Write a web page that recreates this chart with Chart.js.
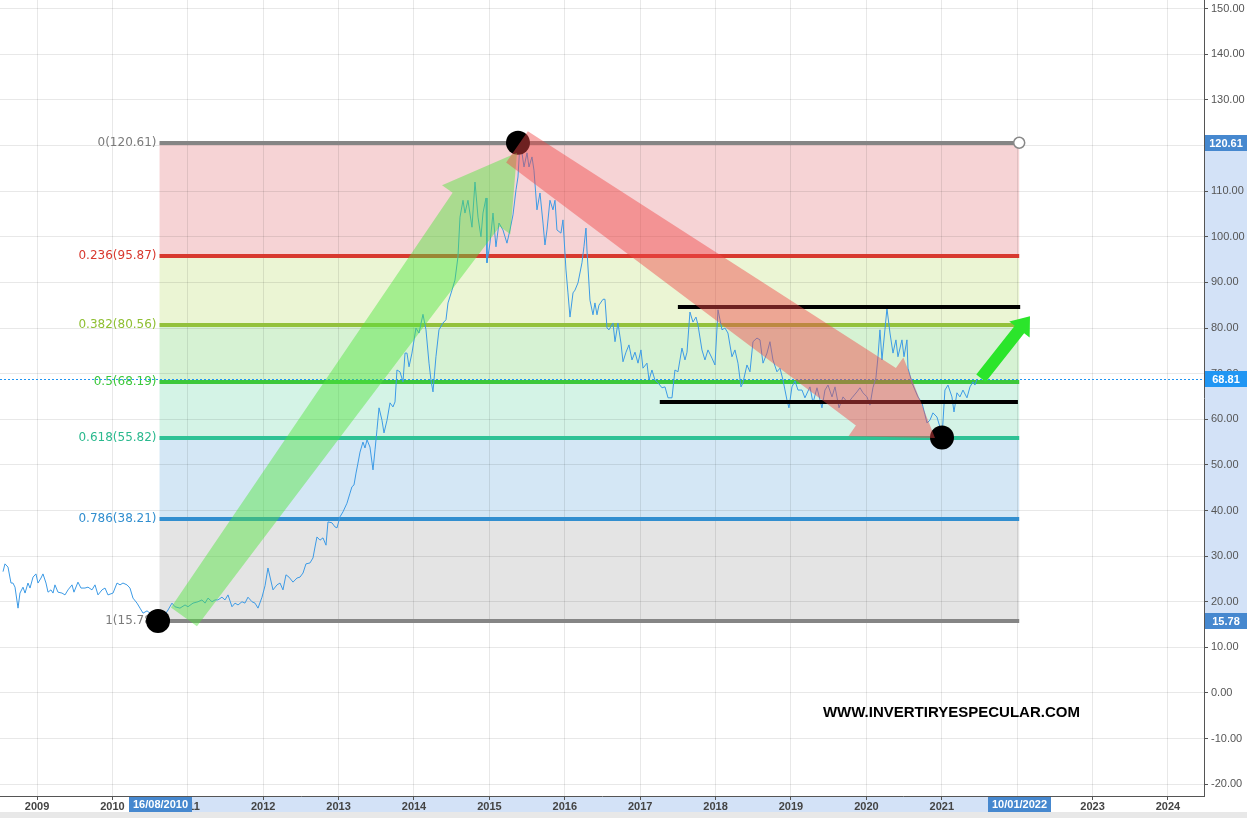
<!DOCTYPE html>
<html>
<head>
<meta charset="utf-8">
<script src="https://cdn.jsdelivr.net/npm/chart.js@4.4.0/dist/chart.umd.min.js"></script>
<style>
  html, body { margin: 0; padding: 0; background: #fff; overflow: hidden; }
</style>
</head>
<body>
<canvas id="chart" width="1247" height="818"></canvas>
<script>
// ---- data ----
const priceDates = [
  2008.549, 2008.575, 2008.615, 2008.655, 2008.681, 2008.708, 2008.748, 2008.774, 2008.814, 2008.841,
  2008.880, 2008.907, 2008.947, 2008.986, 2009.013, 2009.053, 2009.079, 2009.119, 2009.146, 2009.185,
  2009.212, 2009.238, 2009.278, 2009.331, 2009.371, 2009.411, 2009.464, 2009.490, 2009.543, 2009.583,
  2009.636, 2009.676, 2009.729, 2009.769, 2009.809, 2009.862, 2009.902, 2009.941, 2010.008, 2010.061,
  2010.101, 2010.140, 2010.193, 2010.233, 2010.273, 2010.326, 2010.366, 2010.406, 2010.459, 2010.498,
  2010.551, 2010.605, 2010.671, 2010.724, 2010.790, 2010.830, 2010.896, 2010.963, 2011.002, 2011.069,
  2011.135, 2011.188, 2011.228, 2011.268, 2011.321, 2011.361, 2011.400, 2011.453, 2011.493, 2011.533,
  2011.586, 2011.626, 2011.666, 2011.719, 2011.758, 2011.798, 2011.851, 2011.891, 2011.931, 2011.984,
  2012.024, 2012.063, 2012.130, 2012.183, 2012.223, 2012.262, 2012.302, 2012.342, 2012.395, 2012.448,
  2012.488, 2012.528, 2012.567, 2012.620, 2012.660, 2012.687, 2012.713, 2012.753, 2012.793, 2012.833,
  2012.859, 2012.912, 2012.952, 2012.979, 2013.018, 2013.058, 2013.111, 2013.151, 2013.177, 2013.204,
  2013.231, 2013.257, 2013.284, 2013.323, 2013.350, 2013.377, 2013.416, 2013.456, 2013.483, 2013.509,
  2013.536, 2013.575, 2013.602, 2013.642, 2013.682, 2013.721, 2013.748, 2013.774, 2013.814, 2013.854,
  2013.881, 2013.907, 2013.934, 2013.973, 2014.026, 2014.066, 2014.119, 2014.159, 2014.199, 2014.225,
  2014.252, 2014.291, 2014.331, 2014.384, 2014.424, 2014.451, 2014.504, 2014.543, 2014.583, 2014.610,
  2014.650, 2014.676, 2014.716, 2014.769, 2014.809, 2014.849, 2014.888, 2014.915, 2014.955, 2014.968,
  2015.008, 2015.048, 2015.087, 2015.127, 2015.180, 2015.207, 2015.233, 2015.273, 2015.313, 2015.353,
  2015.379, 2015.406, 2015.432, 2015.459, 2015.499, 2015.525, 2015.565, 2015.591, 2015.631, 2015.671,
  2015.711, 2015.737, 2015.764, 2015.803, 2015.843, 2015.870, 2015.896, 2015.949, 2015.976, 2016.016,
  2016.042, 2016.069, 2016.109, 2016.135, 2016.175, 2016.228, 2016.254, 2016.281, 2016.294, 2016.334,
  2016.374, 2016.400, 2016.427, 2016.453, 2016.507, 2016.533, 2016.560, 2016.586, 2016.639, 2016.666,
  2016.705, 2016.745, 2016.772, 2016.812, 2016.851, 2016.891, 2016.931, 2016.971, 2017.010, 2017.037,
  2017.090, 2017.117, 2017.156, 2017.196, 2017.236, 2017.289, 2017.329, 2017.369, 2017.422, 2017.461,
  2017.501, 2017.554, 2017.594, 2017.621, 2017.660, 2017.700, 2017.740, 2017.766, 2017.819, 2017.859,
  2017.899, 2017.952, 2017.992, 2018.032, 2018.085, 2018.124, 2018.164, 2018.217, 2018.257, 2018.297,
  2018.337, 2018.363, 2018.416, 2018.456, 2018.496, 2018.549, 2018.589, 2018.629, 2018.682, 2018.721,
  2018.761, 2018.814, 2018.854, 2018.894, 2018.947, 2018.973, 2019.013, 2019.053, 2019.093, 2019.146,
  2019.185, 2019.252, 2019.292, 2019.345, 2019.411, 2019.451, 2019.491, 2019.544, 2019.584, 2019.637,
  2019.690, 2019.756, 2019.809, 2019.875, 2019.915, 2019.955, 2020.008, 2020.048, 2020.087, 2020.127,
  2020.154, 2020.180, 2020.207, 2020.246, 2020.273, 2020.313, 2020.353, 2020.392, 2020.419, 2020.472,
  2020.499, 2020.538, 2020.552, 2020.605, 2020.645, 2020.684, 2020.737, 2020.777, 2020.804, 2020.843,
  2020.883, 2020.936, 2020.976, 2021.003, 2021.042, 2021.082, 2021.135, 2021.162, 2021.201, 2021.241,
  2021.281, 2021.334, 2021.374, 2021.414, 2021.440, 2021.467
];
const priceValues = [
  26.6, 28.3, 27.6, 24.1, 24.1, 23.2, 18.6, 21.9, 23.2, 21.9,
  24.1, 23.0, 25.4, 26.1, 24.1, 25.2, 26.1, 24.1, 22.1, 22.6,
  21.9, 23.7, 22.1, 21.9, 21.5, 22.6, 23.7, 22.1, 24.3, 23.0,
  23.0, 23.2, 22.6, 23.7, 21.5, 22.6, 23.0, 21.5, 21.9, 24.1,
  23.7, 24.1, 23.7, 23.0, 20.8, 19.7, 18.6, 17.5, 18.0, 17.5,
  16.8, 15.8, 17.0, 17.8, 19.7, 18.9, 18.6, 19.3, 18.9, 19.7,
  20.0, 20.4, 19.7, 20.8, 20.0, 20.4, 20.4, 21.0, 20.4, 21.5,
  18.9, 19.7, 19.3, 20.0, 19.7, 21.0, 20.0, 19.7, 18.6, 21.0,
  23.5, 27.4, 22.6, 23.7, 24.1, 22.6, 25.9, 25.4, 24.3, 25.2,
  25.4, 26.3, 28.3, 28.5, 29.6, 32.0, 34.2, 33.5, 34.0, 32.4,
  37.5, 37.3, 36.4, 36.2, 38.6, 39.7, 41.6, 43.8, 45.2, 45.6,
  48.2, 50.4, 52.8, 55.0, 53.7, 55.5, 53.9, 48.9, 53.3, 57.7,
  62.5, 59.8, 57.0, 59.8, 63.6, 62.7, 63.8, 70.8, 70.4, 68.2,
  74.5, 74.5, 71.5, 74.5, 80.0, 78.9, 83.0, 79.6, 72.3, 68.6,
  66.0, 73.7, 79.6, 81.1, 81.8, 85.5, 88.3, 90.5, 95.6, 104.3,
  108.0, 105.2, 108.0, 102.1, 112.0, 104.3, 100.0, 105.2, 108.5, 94.3,
  98.6, 105.2, 97.8, 103.0, 101.5, 100.0, 98.6, 101.5, 104.8, 110.3,
  113.1, 120.6, 118.4, 115.3, 118.4, 115.3, 117.5, 114.6, 105.9, 109.6,
  103.0, 98.2, 101.5, 108.0, 105.9, 108.0, 101.5, 100.8, 103.7, 92.7,
  87.7, 82.4, 87.7, 88.3, 89.9, 94.3, 97.8, 101.9, 97.1, 86.1,
  82.9, 85.5, 82.9, 85.0, 86.3, 86.3, 80.0, 79.6, 81.1, 77.0,
  81.1, 76.7, 72.6, 74.7, 76.3, 73.0, 74.7, 72.3, 75.2, 71.2,
  72.3, 68.6, 70.8, 68.6, 68.0, 66.9, 67.1, 64.7, 64.7, 70.8,
  70.4, 75.6, 73.0, 74.7, 83.5, 81.3, 82.4, 80.7, 75.2, 73.0,
  75.2, 73.4, 71.9, 84.0, 79.6, 80.0, 78.9, 73.7, 75.2, 72.3,
  67.1, 68.0, 71.9, 70.4, 77.0, 77.8, 77.4, 72.3, 74.5, 77.0,
  73.0, 70.4, 71.2, 68.6, 64.2, 62.5, 67.1, 68.4, 66.4, 66.4,
  64.7, 67.1, 63.6, 66.9, 62.5, 66.4, 67.5, 64.9, 67.1, 62.5,
  64.9, 63.6, 64.7, 66.0, 66.9, 65.8, 64.9, 63.1, 66.9, 69.1,
  73.7, 79.6, 73.0, 79.6, 84.3, 78.9, 74.5, 77.4, 73.7, 77.4,
  73.7, 77.4, 71.2, 68.0, 66.4, 64.9, 63.6, 61.0, 59.2, 59.8,
  61.4, 60.5, 58.3, 56.0, 66.4, 67.5, 64.9, 61.6, 65.8, 64.9,
  66.4, 64.7, 67.1, 68.2, 67.5, 68.81
];

const yearTicks = [2009, 2010, 2011, 2012, 2013, 2014, 2015, 2016, 2017, 2018, 2019, 2020, 2021, 2022, 2023, 2024];
const valueTicks = [-20, -10, 0, 10, 20, 30, 40, 50, 60, 70, 80, 90, 100, 110, 120, 130, 140, 150];

// Fibonacci retracement drawn between the 16/08/2010 low and 10/01/2022
const fibRatios = ['0', '0.236', '0.382', '0.5', '0.618', '0.786', '1'];
const fibLevels = [120.61, 95.87, 80.56, 68.19, 55.82, 38.21, 15.78];
const fibStart = 2010.625;   // 16/08/2010
const fibEnd = 2022.027;     // 10/01/2022
const fibStartLabel = '16/08/2010';
const fibEndLabel = '10/01/2022';

// swing points (black dots)
const swingDates = [2010.605, 2015.379, 2021.003];
const swingValues = [15.78, 120.61, 56.0];

// horizontal range lines
const rangeLevels = [84.5, 63.8];
const rangeStarts = [2017.50, 2017.26];
const rangeEnds = [2022.04, 2022.01];

// arrows: [date, value] tail -> tip
const arrowTails = [[2010.949, 16.7], [2015.366, 119.7], [2021.520, 69.0]];
const arrowTips = [[2015.366, 118.4], [2020.910, 55.9], [2022.170, 82.6]];

const lastPrice = 68.81;
const watermark = 'WWW.INVERTIRYESPECULAR.COM';
const watermarkAt = [2019.424, -4.4];

// ---- styles ----
const fibLineColors = ['#858585', '#d8392f', '#93c13c', '#3cc83a', '#2ec295', '#318ecf', '#858585'];
const fibFillColors = ['#f6d3d5', '#ebf5d4', '#d6f2d3', '#d4f3e6', '#d4e7f5', '#e4e4e4'];
const fibTextColors = ['#7a7a7a', '#d8392f', '#8fbf33', '#3cc83a', '#2ab98e', '#318ecf', '#7a7a7a'];
const arrowStyles = [
  { color: 'rgba(80,228,60,0.46)', w0: 16, w1: 29, wh: 42, hl: 70 },
  { color: 'rgba(240,72,72,0.46)', w0: 19, w1: 35, wh: 48, hl: 72 },
  { color: '#2be52b', w0: 6, w1: 6, wh: 13, hl: 17 }
];

Chart.defaults.font.family = "'Liberation Sans', Arial, sans-serif";
Chart.defaults.font.size = 11;

function fatArrow(ctx, x0, y0, x1, y1, s) {
  const dx = x1 - x0, dy = y1 - y0, len = Math.hypot(dx, dy);
  const ux = dx / len, uy = dy / len, nx = -uy, ny = ux;
  const bx = x1 - ux * s.hl, by = y1 - uy * s.hl;
  ctx.beginPath();
  ctx.moveTo(x0 + nx * s.w0, y0 + ny * s.w0);
  ctx.lineTo(bx + nx * s.w1, by + ny * s.w1);
  ctx.lineTo(bx + nx * s.wh, by + ny * s.wh);
  ctx.lineTo(x1, y1);
  ctx.lineTo(bx - nx * s.wh, by - ny * s.wh);
  ctx.lineTo(bx - nx * s.w1, by - ny * s.w1);
  ctx.lineTo(x0 - nx * s.w0, y0 - ny * s.w0);
  ctx.closePath();
  ctx.fillStyle = s.color;
  ctx.fill();
}

function tagBox(ctx, x, y, w, h, bg, text) {
  ctx.fillStyle = bg;
  ctx.fillRect(x, y, w, h);
  ctx.fillStyle = '#fff';
  ctx.font = "bold 11px 'Liberation Sans', Arial, sans-serif";
  ctx.textAlign = 'center';
  ctx.textBaseline = 'middle';
  ctx.fillText(text, x + w / 2, y + h / 2 + 0.5);
}

const drawingsPlugin = {
  id: 'drawings',
  beforeDraw(chart) {
    const { ctx, chartArea: ca, scales: { x, y } } = chart;
    ctx.save();
    ctx.fillStyle = '#fff';
    ctx.fillRect(0, 0, chart.width, chart.height);
    // fib bands
    const xa = x.getPixelForValue(fibStart), xb = x.getPixelForValue(fibEnd);
    for (let i = 0; i < fibFillColors.length; i++) {
      const ya = y.getPixelForValue(fibLevels[i]), yb = y.getPixelForValue(fibLevels[i + 1]);
      ctx.fillStyle = fibFillColors[i];
      ctx.fillRect(xa, ya, xb - xa, yb - ya);
    }
    // axis range highlights
    ctx.fillStyle = '#d3e2f7';
    const yt = y.getPixelForValue(fibLevels[0]), yb = y.getPixelForValue(fibLevels[6]);
    ctx.fillRect(ca.right + 1, yt, chart.width - ca.right - 1, yb - yt);
    ctx.fillRect(xa, ca.bottom + 1, xb - xa, 15);
    ctx.fillStyle = '#e8e8e8';
    ctx.fillRect(0, ca.bottom + 16, chart.width, chart.height - ca.bottom - 16);
    ctx.restore();
  },
  beforeDatasetsDraw(chart) {
    const { ctx, scales: { x, y } } = chart;
    const xa = x.getPixelForValue(fibStart), xb = x.getPixelForValue(fibEnd);
    ctx.save();
    ctx.lineWidth = 4;
    fibLevels.forEach((lv, i) => {
      const py = Math.round(y.getPixelForValue(lv));
      ctx.strokeStyle = fibLineColors[i];
      ctx.beginPath();
      ctx.moveTo(xa, py);
      ctx.lineTo(xb, py);
      ctx.stroke();
      ctx.fillStyle = fibTextColors[i];
      ctx.font = "12px 'DejaVu Sans', Verdana, sans-serif";
      ctx.textAlign = 'right';
      ctx.textBaseline = 'middle';
      ctx.fillText(fibRatios[i] + '(' + lv.toFixed(2) + ')', xa - 3, py);
    });
    ctx.restore();
  },
  afterDatasetsDraw(chart) {
    const { ctx, chartArea: ca, scales: { x, y } } = chart;
    ctx.save();
    // last price dotted line
    const lp = Math.round(y.getPixelForValue(lastPrice)) + 0.5;
    ctx.strokeStyle = '#2196f3';
    ctx.lineWidth = 1;
    ctx.setLineDash([2, 2]);
    ctx.beginPath();
    ctx.moveTo(ca.left, lp);
    ctx.lineTo(ca.right, lp);
    ctx.stroke();
    ctx.setLineDash([]);
    // range lines
    ctx.strokeStyle = '#000';
    ctx.lineWidth = 4;
    rangeLevels.forEach((lv, i) => {
      const py = Math.round(y.getPixelForValue(lv));
      ctx.beginPath();
      ctx.moveTo(x.getPixelForValue(rangeStarts[i]), py);
      ctx.lineTo(x.getPixelForValue(rangeEnds[i]), py);
      ctx.stroke();
    });
    // swing dots
    ctx.fillStyle = '#000';
    swingDates.forEach((d, i) => {
      ctx.beginPath();
      ctx.arc(x.getPixelForValue(d), y.getPixelForValue(swingValues[i]), 12, 0, Math.PI * 2);
      ctx.fill();
    });
    // open handle at the fib end
    ctx.beginPath();
    ctx.arc(x.getPixelForValue(fibEnd), y.getPixelForValue(fibLevels[0]), 5.5, 0, Math.PI * 2);
    ctx.fillStyle = '#fff';
    ctx.fill();
    ctx.strokeStyle = '#888';
    ctx.lineWidth = 1.5;
    ctx.stroke();
    // arrows
    arrowTails.forEach((t, i) => {
      fatArrow(ctx,
        x.getPixelForValue(t[0]), y.getPixelForValue(t[1]),
        x.getPixelForValue(arrowTips[i][0]), y.getPixelForValue(arrowTips[i][1]),
        arrowStyles[i]);
    });
    // watermark
    ctx.fillStyle = '#000';
    ctx.font = "bold 15px 'Liberation Sans', Arial, sans-serif";
    ctx.textAlign = 'left';
    ctx.textBaseline = 'middle';
    ctx.fillText(watermark, x.getPixelForValue(watermarkAt[0]), y.getPixelForValue(watermarkAt[1]));
    ctx.restore();
  },
  afterDraw(chart) {
    const { ctx, chartArea: ca, scales: { x, y } } = chart;
    ctx.save();
    const w = chart.width - ca.right - 1;
    tagBox(ctx, ca.right + 1, Math.round(y.getPixelForValue(fibLevels[0])) - 8, w, 16, '#4688cf', fibLevels[0].toFixed(2));
    tagBox(ctx, ca.right + 1, Math.round(y.getPixelForValue(fibLevels[6])) - 8, w, 16, '#4688cf', fibLevels[6].toFixed(2));
    tagBox(ctx, ca.right + 1, Math.round(y.getPixelForValue(lastPrice)) - 8, w, 16, '#2196f3', lastPrice.toFixed(2));
    tagBox(ctx, Math.round(x.getPixelForValue(fibStart)) - 31, ca.bottom + 1, 63, 15, '#4688cf', fibStartLabel);
    tagBox(ctx, Math.round(x.getPixelForValue(fibEnd)) - 31, ca.bottom + 1, 63, 15, '#4688cf', fibEndLabel);
    ctx.restore();
  }
};

new Chart(document.getElementById('chart'), {
  type: 'line',
  data: {
    datasets: [{
      data: priceDates.map((d, i) => ({ x: d, y: priceValues[i] })),
      borderColor: '#3d9be6',
      borderWidth: 1,
      pointRadius: 0,
      tension: 0,
      fill: false,
    }],
  },
  options: {
    responsive: false,
    animation: false,
    layout: { padding: 0 },
    plugins: { legend: { display: false }, tooltip: { enabled: false } },
    scales: {
      x: {
        type: 'linear',
        position: 'bottom',
        min: 2008.509,
        max: 2024.478,
        afterBuildTicks: (s) => { s.ticks = yearTicks.map(v => ({ value: v })); },
        afterFit: (s) => { s.height = 22; s.paddingLeft = 0; s.paddingRight = 0; },
        grid: { color: 'rgba(0,0,0,0.09)', tickLength: 4, tickColor: '#555' },
        border: { color: '#555' },
        ticks: {
          autoSkip: false, maxRotation: 0, padding: 0, color: '#444',
          font: { weight: 'bold', size: 11 },
          callback: (v) => String(v),
        },
      },
      y: {
        type: 'linear',
        position: 'right',
        min: -22.58,
        max: 151.9,
        afterBuildTicks: (s) => { s.ticks = valueTicks.map(v => ({ value: v })); },
        afterFit: (s) => { s.width = 43; s.paddingTop = 0; s.paddingBottom = 0; },
        grid: { color: 'rgba(0,0,0,0.09)', tickLength: 4, tickColor: '#555' },
        border: { color: '#555' },
        ticks: { padding: 3, color: '#555', callback: (v) => Number(v).toFixed(2) },
      },
    },
  },
  plugins: [drawingsPlugin],
});
</script>
</body>
</html>
